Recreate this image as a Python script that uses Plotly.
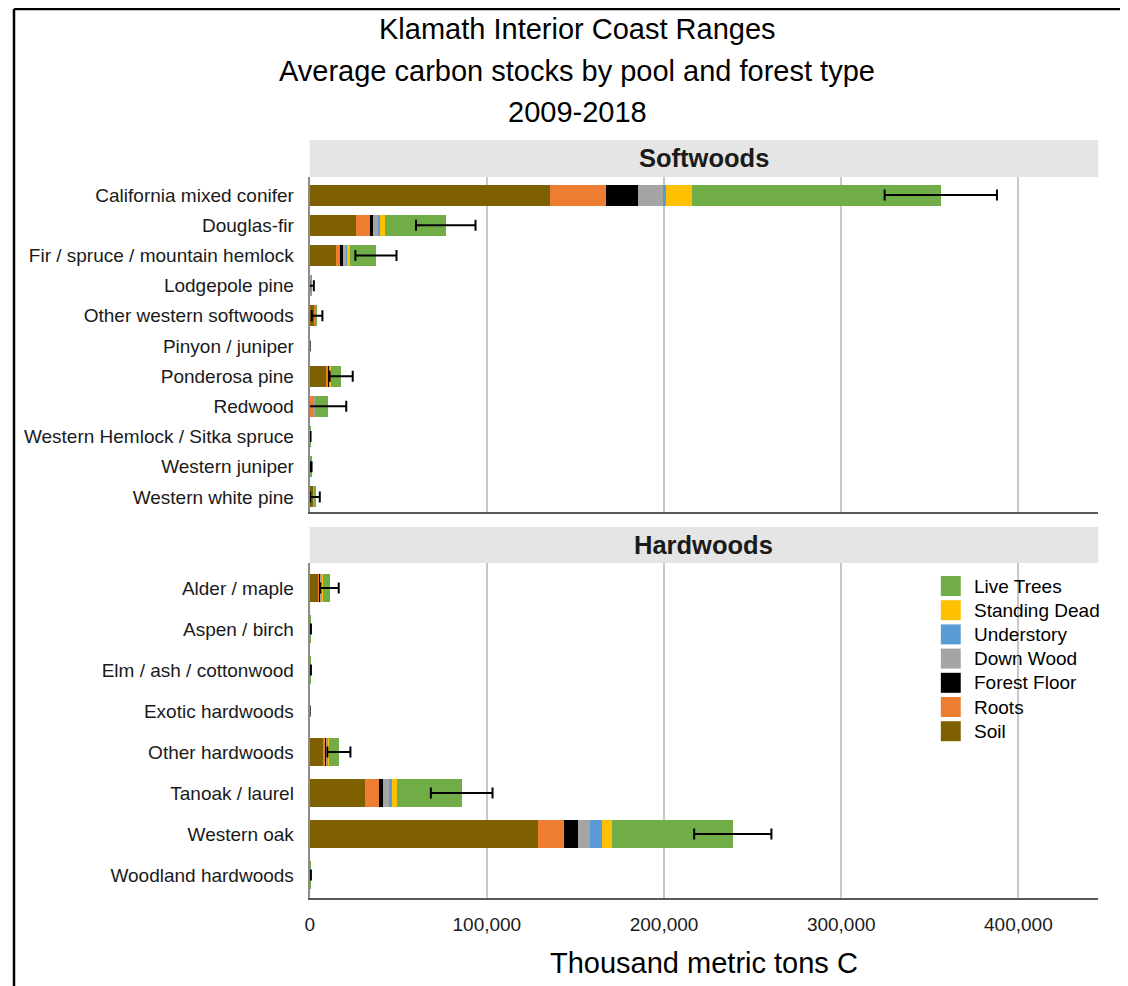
import numpy as np
import plotly.graph_objects as go

# page has an 8px body margin; the figure is sized/offset so page pixels match the reference
OFF = 8
W, H = 1128 - OFF, 986 - OFF

pools = ["Soil", "Roots", "Forest Floor", "Down Wood", "Understory", "Standing Dead", "Live Trees"]
colors = {
    "Soil": "#7F6000",
    "Roots": "#ED7D31",
    "Forest Floor": "#000000",
    "Down Wood": "#A5A5A5",
    "Understory": "#5B9BD5",
    "Standing Dead": "#FFC000",
    "Live Trees": "#70AD47",
}

soft_types = ["California mixed conifer", "Douglas-fir", "Fir / spruce / mountain hemlock",
              "Lodgepole pine", "Other western softwoods", "Pinyon / juniper", "Ponderosa pine",
              "Redwood", "Western Hemlock / Sitka spruce", "Western juniper", "Western white pine"]
soft_soil = [135400, 26200, 14800, 400, 2600, 0, 9400, 300, 150, 300, 1900]
soft_roots = [31800, 7900, 2400, 100, 300, 0, 1100, 2300, 30, 50, 200]
soft_floor = [18000, 1900, 1500, 50, 150, 0, 700, 100, 20, 30, 100]
soft_down = [14200, 2800, 1900, 50, 100, 0, 300, 200, 20, 10, 100]
soft_under = [1900, 1100, 200, 10, 30, 0, 100, 50, 5, 10, 20]
soft_sdead = [14400, 2600, 2200, 50, 100, 0, 200, 200, 10, 20, 80]
soft_live = [140500, 34300, 14400, 400, 900, 0, 6000, 7000, 100, 150, 600]
soft_err = [31700, 16800, 11600, 1300, 3000, 0, 6500, 10500, 150, 500, 2700]

hard_types = ["Alder / maple", "Aspen / birch", "Elm / ash / cottonwood", "Exotic hardwoods",
              "Other hardwoods", "Tanoak / laurel", "Western oak", "Woodland hardwoods"]
hard_soil = [4700, 150, 150, 0, 7500, 31100, 128800, 200]
hard_roots = [900, 30, 30, 0, 1500, 7900, 15000, 40]
hard_floor = [200, 20, 20, 0, 400, 2200, 7500, 20]
hard_down = [1000, 20, 20, 0, 700, 3600, 7000, 20]
hard_under = [300, 5, 5, 0, 300, 1700, 6500, 5]
hard_sdead = [200, 10, 10, 0, 300, 2600, 5600, 15]
hard_live = [3900, 80, 80, 0, 5800, 36700, 68400, 100]
hard_err = [5200, 400, 400, 0, 6500, 17400, 21800, 300]

soft_vals = dict(zip(pools, [soft_soil, soft_roots, soft_floor, soft_down, soft_under, soft_sdead, soft_live]))
hard_vals = dict(zip(pools, [hard_soil, hard_roots, hard_floor, hard_down, hard_under, hard_sdead, hard_live]))

x_ticks = [0, 100000, 200000, 300000, 400000]
x_tick_labels = ["0", "100,000", "200,000", "300,000", "400,000"]

FONT = "Liberation Sans, Arial, sans-serif"


def px(x):
    return (x - OFF) / W


def py(y):
    return 1 - (y - OFF) / H


fig = go.Figure()

for panel, (types, vals, err) in enumerate([(soft_types, soft_vals, soft_err),
                                             (hard_types, hard_vals, hard_err)]):
    ya = "y" if panel == 0 else "y2"
    xa = "x" if panel == 0 else "x2"
    for p in pools:
        fig.add_trace(go.Bar(
            y=types, x=vals[p], orientation="h", name=p,
            marker=dict(color=colors[p], line=dict(width=0)),
            width=0.7, xaxis=xa, yaxis=ya, showlegend=False,
            hovertemplate="%{y}<br>" + p + ": %{x:,}<extra></extra>",
        ))
    totals = np.sum([vals[p] for p in pools], axis=0)
    fig.add_trace(go.Scatter(
        y=types, x=totals, mode="markers", marker=dict(size=0.1, color="rgba(0,0,0,0)"),
        error_x=dict(type="data", array=err, visible=True, color="black", thickness=2, width=5.5),
        xaxis=xa, yaxis=ya, showlegend=False, hoverinfo="skip",
    ))

xdom = [px(306), px(1098)]
axis_font = dict(family=FONT, size=19, color="#1a1a1a")
xcommon = dict(range=[0, 445000], domain=xdom, tickvals=x_ticks, ticktext=x_tick_labels,
               showgrid=True, gridcolor="#C8C8C8", gridwidth=1.5, zeroline=False,
               showline=True, linecolor="#595959", linewidth=2, ticks="",
               fixedrange=True)

fig.update_layout(
    width=W, height=H,
    margin=dict(l=0, r=0, t=0, b=0),
    paper_bgcolor="white", plot_bgcolor="white",
    barmode="stack", bargap=0.3,
    font=dict(family=FONT, color="#1a1a1a"),
    xaxis=dict(**xcommon, anchor="y", showticklabels=False, matches="x2"),
    xaxis2=dict(**xcommon, anchor="y2", showticklabels=True,
                tickfont=dict(family=FONT, size=19, color="#1a1a1a"),
                ticklabelstandoff=8),
    yaxis=dict(domain=[py(512), py(177)], anchor="x", type="category",
               categoryorder="array", categoryarray=soft_types,
               range=[len(soft_types) - 1 + 0.5, -0.6],
               showline=True, linecolor="#8c8c8c", linewidth=2, showgrid=False,
               ticks="", tickfont=axis_font, ticklabelstandoff=10, fixedrange=True),
    yaxis2=dict(domain=[py(898), py(563)], anchor="x2", type="category",
                categoryorder="array", categoryarray=hard_types,
                range=[len(hard_types) - 1 + 0.56, -0.61],
                showline=True, linecolor="#8c8c8c", linewidth=2, showgrid=False,
                ticks="", tickfont=axis_font, ticklabelstandoff=10, fixedrange=True),
    showlegend=False,
)

shapes = []
annotations = []

# frame (top and left edges)
shapes.append(dict(type="line", xref="paper", yref="paper", x0=px(9), x1=1, y0=py(9), y1=py(9),
                   line=dict(color="black", width=2.5)))
shapes.append(dict(type="line", xref="paper", yref="paper", x0=px(9), x1=px(9), y0=py(9), y1=0,
                   line=dict(color="black", width=2.5)))

# facet strips
for (y0, y1, label) in [(140, 177, "Softwoods"), (527, 563, "Hardwoods")]:
    shapes.append(dict(type="rect", xref="paper", yref="paper", x0=xdom[0], x1=xdom[1],
                       y0=py(y1), y1=py(y0), fillcolor="#E5E5E5", line=dict(width=0), layer="below"))
    annotations.append(dict(x=(xdom[0] + xdom[1]) / 2, y=py((y0 + y1) / 2), xref="paper", yref="paper",
                            text="<b>" + label + "</b>", showarrow=False, xanchor="center", yanchor="middle",
                            font=dict(family=FONT, size=25.5, color="#1a1a1a")))

# titles
for yc, txt in [(29, "Klamath Interior Coast Ranges"),
                (71, "Average carbon stocks by pool and forest type"),
                (112, "2009-2018")]:
    annotations.append(dict(x=px(575), y=py(yc), xref="paper", yref="paper", text=txt, showarrow=False,
                            xanchor="center", yanchor="middle",
                            font=dict(family=FONT, size=29, color="black")))

# x-axis title
annotations.append(dict(x=(xdom[0] + xdom[1]) / 2, y=py(963), xref="paper", yref="paper",
                        text="Thousand metric tons C", showarrow=False, xanchor="center", yanchor="middle",
                        font=dict(family=FONT, size=29, color="black")))

# legend (drawn manually)
legend_order = ["Live Trees", "Standing Dead", "Understory", "Down Wood", "Forest Floor", "Roots", "Soil"]
for i, p in enumerate(legend_order):
    yc = 586 + i * 24.2
    shapes.append(dict(type="rect", xref="paper", yref="paper", x0=px(940), x1=px(960),
                       y0=py(yc + 10), y1=py(yc - 10), fillcolor=colors[p], line=dict(width=0)))
    annotations.append(dict(x=px(971), y=py(yc), xref="paper", yref="paper", text=p, showarrow=False,
                            xanchor="left", yanchor="middle",
                            font=dict(family=FONT, size=19, color="black")))

fig.update_layout(shapes=shapes, annotations=annotations)

fig.write_html("out.html")
